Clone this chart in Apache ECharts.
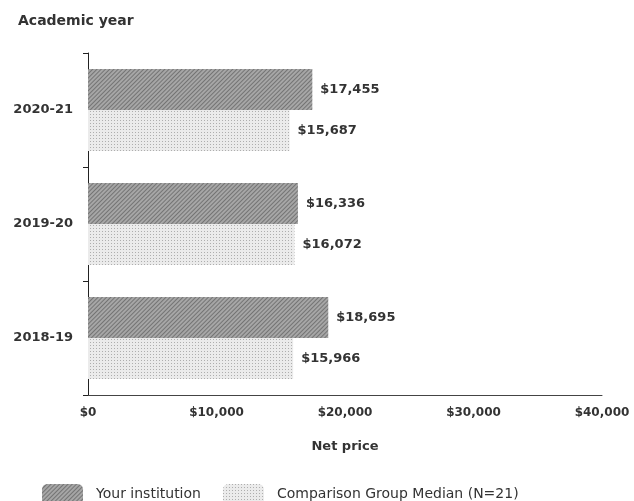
<!DOCTYPE html>
<html>
<head>
<meta charset="utf-8">
<script src="https://cdn.jsdelivr.net/npm/echarts@6/dist/echarts.min.js"></script>
<style>
  html, body { margin: 0; padding: 0; background: #fff; }
  #chart { width: 634px; height: 501px; }
</style>
</head>
<body>
<div id="chart"></div>
<script>
// academic years, top to bottom
const years = ["2020-21", "2019-20", "2018-19"];
const yourInstitution = [17455, 16336, 18695];
const comparisonMedian = [15687, 16072, 15966];
const xTicks = [0, 10000, 20000, 30000, 40000];
const seriesNames = ["Your institution", "Comparison Group Median (N=21)"];

const FONT = "DejaVu Sans";
const TXT = "#333";

function money(v) {
  return "$" + v.toLocaleString("en-US");
}

const chart = echarts.init(document.getElementById("chart"));

// value label shared by both series
const barLabel = {
  show: true,
  position: "right",
  distance: 8,
  fontFamily: FONT,
  fontSize: 13,
  fontWeight: "bold",
  color: TXT,
  formatter: (p) => money(p.value),
};

chart.setOption({
  animation: false,
  textStyle: { fontFamily: FONT, color: TXT },
  title: {
    text: "Academic year",
    left: 13,
    top: 9,
    textStyle: { fontFamily: FONT, fontSize: 14, fontWeight: "bold", color: TXT },
  },
  legend: {
    left: 37,
    top: 479,
    itemWidth: 41,
    itemHeight: 21,
    itemGap: 22,
    icon: "roundRect",
    textStyle: { fontFamily: FONT, fontSize: 14, color: TXT, padding: [0, 0, 0, 8] },
    data: seriesNames,
  },
  grid: { left: 88, right: 32, top: 53, bottom: 106 },
  xAxis: {
    type: "value",
    min: xTicks[0],
    max: xTicks[xTicks.length - 1],
    interval: 10000,
    name: "Net price",
    nameLocation: "middle",
    nameGap: 45,
    nameTextStyle: { fontFamily: FONT, fontSize: 13, fontWeight: "bold", color: TXT },
    axisLine: { show: true, lineStyle: { color: "#444", width: 1 } },
    axisTick: { show: false },
    splitLine: { show: false },
    axisLabel: {
      margin: 12,
      fontFamily: FONT,
      fontSize: 12,
      fontWeight: "bold",
      color: TXT,
      formatter: (v) => money(v),
    },
  },
  yAxis: {
    type: "category",
    inverse: true,
    data: years,
    axisLine: { show: true, lineStyle: { color: "#222", width: 1 } },
    axisTick: { show: true, length: 5, lineStyle: { color: "#222" } },
    axisLabel: { margin: 15, fontFamily: FONT, fontSize: 13, fontWeight: "bold", color: TXT },
  },
  series: [
    {
      name: seriesNames[0],
      type: "bar",
      data: yourInstitution,
      barGap: "0%",
      barCategoryGap: "28%",
      itemStyle: {
        color: "#a6a6a6",
        decal: {
          symbol: "rect",
          color: "rgba(40,40,40,0.4)",
          dashArrayX: [1, 0],
          dashArrayY: [1, 2],
          rotation: -Math.PI / 4,
        },
      },
      label: barLabel,
    },
    {
      name: seriesNames[1],
      type: "bar",
      data: comparisonMedian,
      itemStyle: {
        color: "#ebebeb",
        decal: {
          symbol: "rect",
          symbolSize: 1,
          color: "rgba(60,60,60,0.35)",
          dashArrayX: [1, 2],
          dashArrayY: [1, 2],
          rotation: 0,
        },
      },
      label: barLabel,
    },
  ],
});
</script>
</body>
</html>
